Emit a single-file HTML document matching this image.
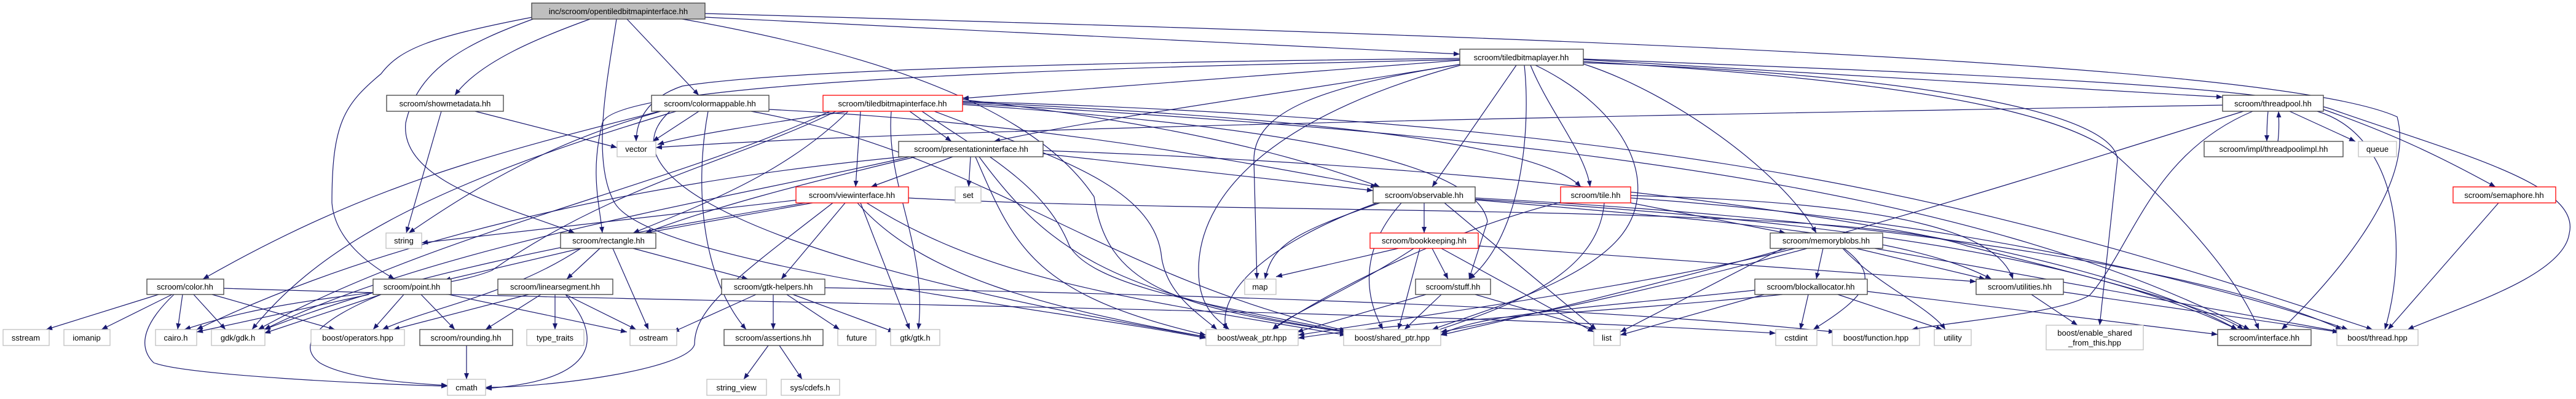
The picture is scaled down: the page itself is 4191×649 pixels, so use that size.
<!DOCTYPE html>
<html><head><meta charset="utf-8"><style>
html,body{margin:0;padding:0;background:#fff;}
svg{display:block;}
text{font-family:"Liberation Sans",sans-serif;font-size:13px;fill:#000;}
.e{fill:none;stroke:#191970;stroke-width:1.2;marker-end:url(#a);}
</style></head><body>
<svg width="4191" height="649" viewBox="0 0 4191 649" xmlns="http://www.w3.org/2000/svg">
<defs><marker id="a" markerUnits="userSpaceOnUse" markerWidth="11" markerHeight="8" refX="10" refY="4" orient="auto"><path d="M0,0 L10,4 L0,8 z" fill="#191970"/></marker></defs>
<g>
<path class="e" d="M960 31 C880 60 780 100 740 155"/>
<path class="e" d="M1020 31 L1137 155"/>
<path class="e" d="M866 28 C700 60 650 80 620 120 C560 170 540 200 540 330 C545 390 600 430 642 454"/>
<path class="e" d="M870 30 C760 70 680 110 660 200 C650 300 840 340 935 379"/>
<path class="e" d="M1003 31 C990 120 960 260 1000 330 C1060 430 1700 500 1962 550"/>
<path class="e" d="M1147 28 L2375 88"/>
<path class="e" d="M1110 31 C1500 100 1700 200 1780 320 C1800 460 1900 500 2190 540"/>
<path class="e" d="M1147 22 C2500 60 3700 100 3900 190 C3930 300 3800 450 3712 536"/>
<path class="e" d="M2576 96 C3200 120 3700 140 3800 180 C4000 250 4200 300 4180 380 C4170 450 4000 500 3917 536"/>
<path class="e" d="M2375 98 L1566 160"/>
<path class="e" d="M2380 104 C2100 150 1800 190 1617 230"/>
<path class="e" d="M2375 95 C1900 100 1300 110 1110 140 C1050 160 1035 200 1035 230"/>
<path class="e" d="M2375 97 C1800 110 1000 130 980 200 C960 280 975 330 980 379"/>
<path class="e" d="M2380 104 C2150 140 2040 180 2040 260 L2045 454"/>
<path class="e" d="M2467 106 L2330 304"/>
<path class="e" d="M2490 106 C2520 180 2580 250 2587 304"/>
<path class="e" d="M2480 106 C2490 200 2480 380 2390 454"/>
<path class="e" d="M2380 105 C2100 180 1950 300 1950 440 C1950 500 1980 520 2000 536"/>
<path class="e" d="M2498 106 C2650 180 2700 300 2640 380 C2580 460 2400 510 2330 536"/>
<path class="e" d="M2576 104 C2720 150 2900 280 2955 379"/>
<path class="e" d="M2576 97 L3616 158"/>
<path class="e" d="M2576 100 C3100 130 3350 180 3440 250 C3550 350 3640 450 3675 536"/>
<path class="e" d="M2576 102 C3100 120 3440 180 3445 260 L3416 529"/>
<path class="e" d="M1380 181 C1250 200 1120 220 1070 235"/>
<path class="e" d="M1480 181 L1548 230"/>
<path class="e" d="M1400 181 L1392 304"/>
<path class="e" d="M1380 181 C1280 280 1150 330 1030 379"/>
<path class="e" d="M1360 181 C1200 260 1000 300 800 440 C700 480 500 470 300 536"/>
<path class="e" d="M1350 181 C1100 300 700 380 420 536"/>
<path class="e" d="M1450 181 C1440 300 1510 400 1494 536"/>
<path class="e" d="M1520 181 C1700 250 1880 300 1890 420 C1900 480 1950 510 1980 536"/>
<path class="e" d="M1500 181 C1600 250 1700 300 1740 400 C1780 470 2000 500 2190 540"/>
<path class="e" d="M1566 162 C1900 200 2100 250 2245 304"/>
<path class="e" d="M1566 166 C2100 190 2500 230 2572 304"/>
<path class="e" d="M1566 170 C2000 200 2400 250 2420 360 L2390 454"/>
<path class="e" d="M1566 168 C2500 220 3200 300 3660 536"/>
<path class="e" d="M1566 165 C2800 200 3300 350 3860 536"/>
<path class="e" d="M1550 255 L1417 304"/>
<path class="e" d="M1579 255 L1576 304"/>
<path class="e" d="M1490 255 C1300 300 1150 340 1050 379"/>
<path class="e" d="M1697 250 L2234 310"/>
<path class="e" d="M1587 255 C1650 400 1680 480 1962 545"/>
<path class="e" d="M1593 255 C1700 400 1800 480 2190 540"/>
<path class="e" d="M1697 245 C2700 280 3400 400 3640 536"/>
<path class="e" d="M1480 255 C1200 320 700 400 430 536"/>
<path class="e" d="M1470 255 C1000 300 600 400 320 536"/>
<path class="e" d="M1322 330 L1050 379"/>
<path class="e" d="M1300 325 L686 395"/>
<path class="e" d="M1375 330 L1271 454"/>
<path class="e" d="M1355 330 C1200 450 1130 500 1130 560 C1120 600 900 630 790 630"/>
<path class="e" d="M1400 330 L1480 536"/>
<path class="e" d="M1310 330 C900 400 650 450 430 536"/>
<path class="e" d="M1395 330 C1500 450 1700 500 1962 548"/>
<path class="e" d="M1410 330 C1600 450 1800 480 2190 545"/>
<path class="e" d="M1478 322 C2000 350 3000 330 3200 400 C3400 450 3600 500 3650 536"/>
<path class="e" d="M945 404 L723 456"/>
<path class="e" d="M976 404 L922 454"/>
<path class="e" d="M1030 404 L1217 454"/>
<path class="e" d="M997 404 L1055 536"/>
<path class="e" d="M945 404 C830 480 700 500 622 536"/>
<path class="e" d="M258 479 L75 536"/>
<path class="e" d="M280 479 L165 536"/>
<path class="e" d="M297 479 L289 536"/>
<path class="e" d="M315 479 L367 536"/>
<path class="e" d="M345 479 L545 536"/>
<path class="e" d="M283 479 C240 520 220 560 250 590 C300 610 600 625 728 628"/>
<path class="e" d="M364 469 C1200 495 2200 500 2889 542"/>
<path class="e" d="M657 479 L607 536"/>
<path class="e" d="M685 479 L740 536"/>
<path class="e" d="M730 479 L1020 540"/>
<path class="e" d="M620 479 C520 520 480 560 520 590 C570 620 700 625 728 627"/>
<path class="e" d="M620 479 L430 542"/>
<path class="e" d="M600 479 L320 540"/>
<path class="e" d="M860 479 L640 536"/>
<path class="e" d="M880 479 L790 536"/>
<path class="e" d="M903 479 L903 536"/>
<path class="e" d="M920 479 L1035 536"/>
<path class="e" d="M920 479 C990 560 960 620 790 632"/>
<path class="e" d="M1230 479 L1095 540"/>
<path class="e" d="M1258 479 L1258 536"/>
<path class="e" d="M1280 479 L1366 536"/>
<path class="e" d="M1290 479 L1455 540"/>
<path class="e" d="M1342 468 C2000 480 2600 500 2985 540"/>
<path class="e" d="M759 562 L759 617"/>
<path class="e" d="M1250 562 L1210 617"/>
<path class="e" d="M1268 562 L1305 617"/>
<path class="e" d="M1137 181 L1062 230"/>
<path class="e" d="M1075 181 C900 230 780 300 665 379"/>
<path class="e" d="M1085 178 C800 250 600 300 330 454"/>
<path class="e" d="M1152 181 C1130 300 1140 450 1214 536"/>
<path class="e" d="M1251 178 C1700 200 2000 260 2240 304"/>
<path class="e" d="M1222 181 C1600 250 1800 450 2190 538"/>
<path class="e" d="M1090 181 C980 280 1200 420 1962 548"/>
<path class="e" d="M1100 181 C700 300 520 400 410 536"/>
<path class="e" d="M773 181 L1004 240"/>
<path class="e" d="M718 181 L661 379"/>
<path class="e" d="M2245 330 C2100 380 2070 400 2058 454"/>
<path class="e" d="M2240 330 C2050 400 1980 480 1995 536"/>
<path class="e" d="M2280 330 C2200 420 2230 500 2250 536"/>
<path class="e" d="M2317 330 L2317 379"/>
<path class="e" d="M2350 330 L2597 536"/>
<path class="e" d="M2400 325 C2800 360 3100 380 3240 454"/>
<path class="e" d="M2400 324 C3000 360 3400 420 3640 536"/>
<path class="e" d="M2400 322 C3100 360 3600 440 3810 536"/>
<path class="e" d="M2653 330 L2905 379"/>
<path class="e" d="M2560 324 C2400 360 2200 450 2070 536"/>
<path class="e" d="M2610 330 C2600 450 2450 500 2330 540"/>
<path class="e" d="M2653 318 C3100 330 3250 380 3275 454"/>
<path class="e" d="M2653 322 C3200 360 3600 460 3820 536"/>
<path class="e" d="M2275 404 L2076 450"/>
<path class="e" d="M2330 404 L2356 454"/>
<path class="e" d="M2300 404 C2200 470 2100 510 2070 536"/>
<path class="e" d="M2310 404 L2275 536"/>
<path class="e" d="M2345 404 L2593 540"/>
<path class="e" d="M2405 400 L3215 458"/>
<path class="e" d="M2320 479 L2110 540"/>
<path class="e" d="M2345 479 L2285 536"/>
<path class="e" d="M2400 479 L2597 536"/>
<path class="e" d="M2966 404 L2955 454"/>
<path class="e" d="M3020 404 L3230 454"/>
<path class="e" d="M3000 404 C3060 450 3040 480 2950 536"/>
<path class="e" d="M2998 404 C3050 460 3140 500 3165 536"/>
<path class="e" d="M2900 404 L2636 540"/>
<path class="e" d="M2920 404 C2700 460 2400 500 2112 545"/>
<path class="e" d="M2940 404 C2700 470 2500 510 2344 540"/>
<path class="e" d="M3050 404 L3810 540"/>
<path class="e" d="M2942 479 L2929 536"/>
<path class="e" d="M2990 479 L3160 536"/>
<path class="e" d="M3038 474 L3608 544"/>
<path class="e" d="M2855 472 C2600 500 2400 510 2344 545"/>
<path class="e" d="M2900 479 C2600 510 2300 520 2112 550"/>
<path class="e" d="M2870 479 L2636 545"/>
<path class="e" d="M3305 479 L3380 529"/>
<path class="e" d="M3357 475 L3805 540"/>
<path class="e" d="M3616 171 C2500 190 1500 210 1067 240"/>
<path class="e" d="M3690 181 C3688 200 3688 215 3688 230"/>
<path class="e" d="M3706 230 C3708 215 3708 200 3707 181"/>
<path class="e" d="M3725 181 L3832 230"/>
<path class="e" d="M3780 178 C3900 220 3980 260 4060 304"/>
<path class="e" d="M3770 181 C3900 220 3920 400 3880 536"/>
<path class="e" d="M3665 181 C3500 250 3470 400 3400 480 C3350 510 3200 520 3110 536"/>
<path class="e" d="M3650 181 C3300 290 2900 420 2344 545"/>
<path class="e" d="M4065 330 L3885 536"/>
</g>
<g stroke-width="1.3">
<!-- black-bordered nodes -->
<g fill="#fff" stroke="#404040">
<rect x="629" y="155" width="190" height="26"/>
<rect x="1060" y="155" width="191" height="26"/>
<rect x="1462" y="230" width="235" height="25"/>
<rect x="2234" y="304" width="166" height="26"/>
<rect x="912" y="379" width="155" height="25"/>
<rect x="2880" y="379" width="183" height="25"/>
<rect x="239" y="454" width="125" height="25"/>
<rect x="607" y="454" width="127" height="25"/>
<rect x="810" y="454" width="187" height="25"/>
<rect x="1174" y="454" width="168" height="25"/>
<rect x="2303" y="454" width="122" height="25"/>
<rect x="2855" y="454" width="183" height="25"/>
<rect x="3215" y="454" width="142" height="25"/>
<rect x="683" y="536" width="151" height="26"/>
<rect x="1178" y="536" width="161" height="26"/>
<rect x="3608" y="536" width="152" height="26"/>
<rect x="2375" y="80" width="201" height="26"/>
<rect x="3616" y="155" width="164" height="26"/>
<rect x="3586" y="230" width="226" height="25"/>
</g>
<rect x="865" y="5" width="282" height="26" fill="#bfbfbf" stroke="#404040"/>
<g fill="#fff" stroke="#ff0000">
<rect x="1339" y="155" width="227" height="26"/>
<rect x="1295" y="304" width="183" height="26"/>
<rect x="2539" y="304" width="114" height="26"/>
<rect x="2229" y="379" width="176" height="25"/>
<rect x="3991" y="304" width="167" height="26"/>
</g>
<g fill="#fff" stroke="#bfbfbf">
<rect x="1004" y="230" width="63" height="25"/>
<rect x="1554" y="304" width="42" height="26"/>
<rect x="628" y="379" width="58" height="25"/>
<rect x="2025" y="454" width="51" height="25"/>
<rect x="5" y="536" width="75" height="26"/>
<rect x="104" y="536" width="75" height="26"/>
<rect x="253" y="536" width="67" height="26"/>
<rect x="344" y="536" width="87" height="26"/>
<rect x="506" y="536" width="152" height="26"/>
<rect x="857" y="536" width="93" height="26"/>
<rect x="1025" y="536" width="76" height="26"/>
<rect x="1363" y="536" width="62" height="26"/>
<rect x="1449" y="536" width="80" height="26"/>
<rect x="1962" y="536" width="150" height="26"/>
<rect x="2186" y="536" width="158" height="26"/>
<rect x="2593" y="536" width="43" height="26"/>
<rect x="2889" y="536" width="67" height="26"/>
<rect x="2981" y="536" width="142" height="26"/>
<rect x="3147" y="536" width="60" height="26"/>
<rect x="3329" y="529" width="158" height="40"/>
<rect x="3802" y="536" width="132" height="26"/>
<rect x="728" y="617" width="62" height="26"/>
<rect x="1150" y="617" width="97" height="26"/>
<rect x="1271" y="617" width="95" height="26"/>
<rect x="3837" y="230" width="62" height="25"/>
</g>
</g>
<g text-anchor="middle">
<text x="1006" y="23">inc/scroom/opentiledbitmapinterface.hh</text>
<text x="724" y="173">scroom/showmetadata.hh</text>
<text x="1155" y="173">scroom/colormappable.hh</text>
<text x="1452" y="173">scroom/tiledbitmapinterface.hh</text>
<text x="1035" y="247">vector</text>
<text x="1580" y="247">scroom/presentationinterface.hh</text>
<text x="1386" y="322">scroom/viewinterface.hh</text>
<text x="1575" y="322">set</text>
<text x="2317" y="322">scroom/observable.hh</text>
<text x="2596" y="322">scroom/tile.hh</text>
<text x="657" y="396">string</text>
<text x="990" y="396">scroom/rectangle.hh</text>
<text x="2317" y="396">scroom/bookkeeping.hh</text>
<text x="2971" y="396">scroom/memoryblobs.hh</text>
<text x="301" y="471">scroom/color.hh</text>
<text x="670" y="471">scroom/point.hh</text>
<text x="903" y="471">scroom/linearsegment.hh</text>
<text x="1258" y="471">scroom/gtk-helpers.hh</text>
<text x="2050" y="471">map</text>
<text x="2364" y="471">scroom/stuff.hh</text>
<text x="2946" y="471">scroom/blockallocator.hh</text>
<text x="3286" y="471">scroom/utilities.hh</text>
<text x="42" y="554">sstream</text>
<text x="141" y="554">iomanip</text>
<text x="286" y="554">cairo.h</text>
<text x="387" y="554">gdk/gdk.h</text>
<text x="582" y="554">boost/operators.hpp</text>
<text x="758" y="554">scroom/rounding.hh</text>
<text x="903" y="554">type_traits</text>
<text x="1063" y="554">ostream</text>
<text x="1258" y="554">scroom/assertions.hh</text>
<text x="1394" y="554">future</text>
<text x="1489" y="554">gtk/gtk.h</text>
<text x="2037" y="554">boost/weak_ptr.hpp</text>
<text x="2265" y="554">boost/shared_ptr.hpp</text>
<text x="2614" y="554">list</text>
<text x="2922" y="554">cstdint</text>
<text x="3052" y="554">boost/function.hpp</text>
<text x="3177" y="554">utility</text>
<text x="3408" y="546">boost/enable_shared</text>
<text x="3408" y="562">_from_this.hpp</text>
<text x="3684" y="554">scroom/interface.hh</text>
<text x="3868" y="554">boost/thread.hpp</text>
<text x="759" y="635">cmath</text>
<text x="1198" y="635">string_view</text>
<text x="1318" y="635">sys/cdefs.h</text>
<text x="2475" y="98">scroom/tiledbitmaplayer.hh</text>
<text x="3698" y="173">scroom/threadpool.hh</text>
<text x="3699" y="247">scroom/impl/threadpoolimpl.hh</text>
<text x="3868" y="247">queue</text>
<text x="4074" y="322">scroom/semaphore.hh</text>
</g>
</svg>
</body></html>
